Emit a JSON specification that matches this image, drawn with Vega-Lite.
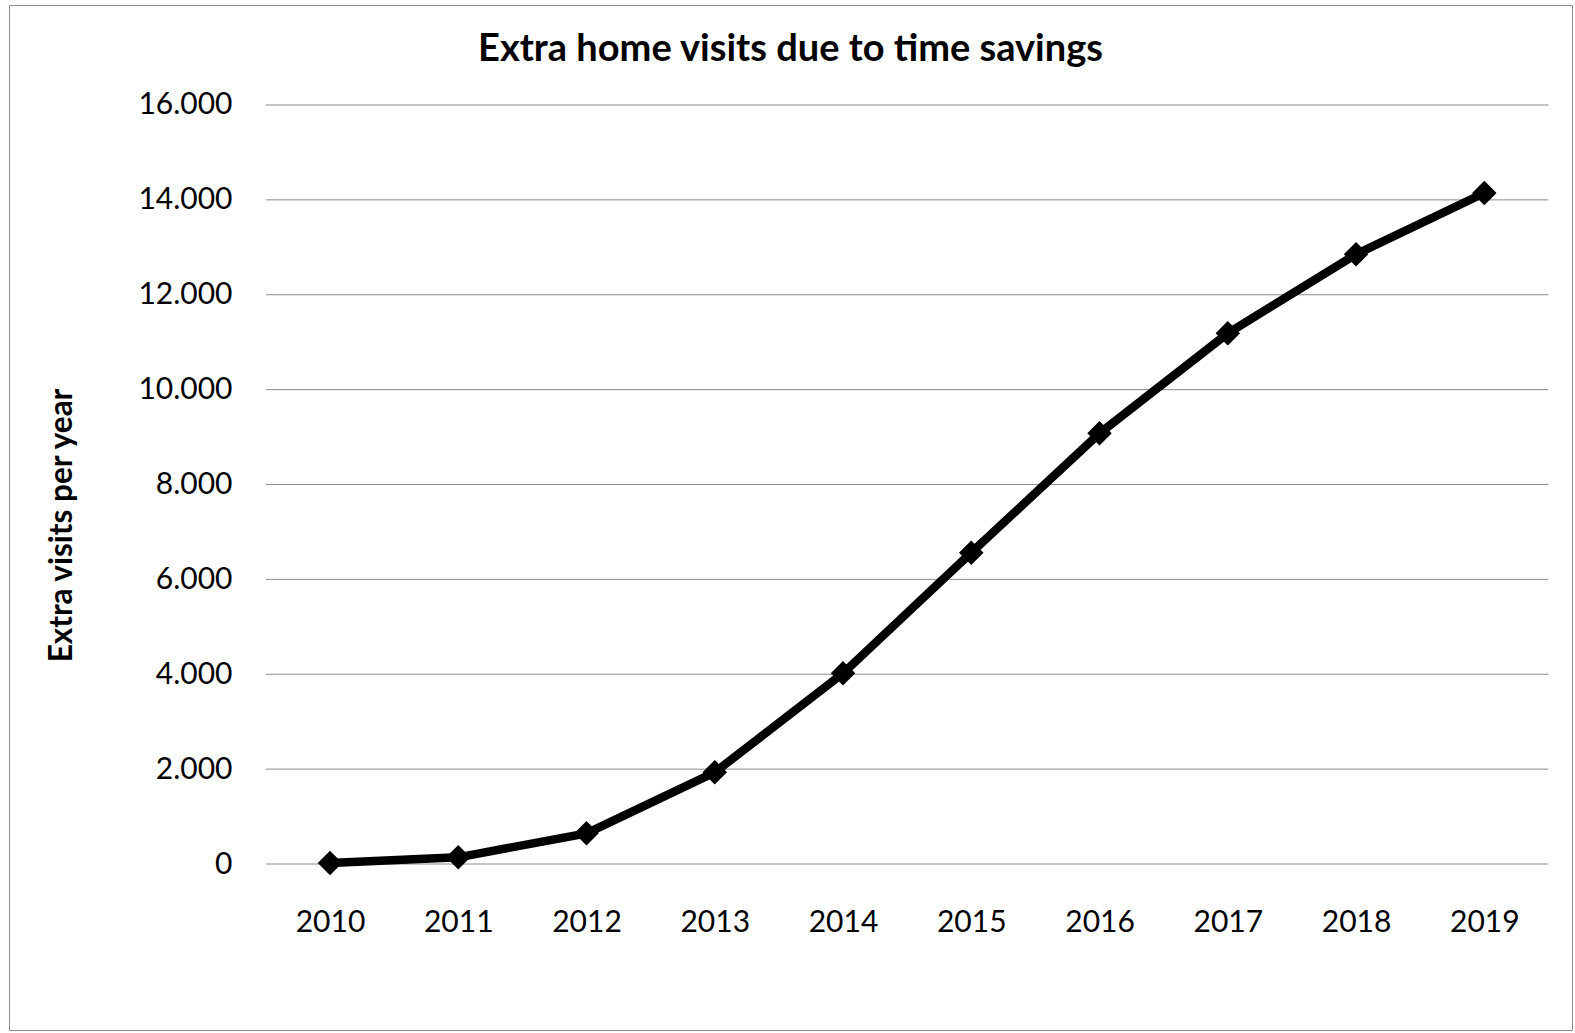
{
  "$schema": "https://vega.github.io/schema/vega-lite/v6.json",
  "width": 1563,
  "height": 1025,
  "autosize": {"type": "none"},
  "padding": {"left": 9, "top": 5, "right": 3, "bottom": 3},
  "background": "white",
  "config": {
    "font": "Lato",
    "view": {"stroke": "#8c8c8c", "strokeWidth": 1}
  },
  "title": {
    "text": "Extra home visits due to time savings",
    "anchor": "middle",
    "baseline": "alphabetic",
    "offset": 0,
    "dy": 94,
    "fontSize": 38,
    "fontWeight": "bold",
    "font": "Lato",
    "color": "#000000"
  },
  "layer": [
    {
      "data": {"values": [
        {"g": 0}, {"g": 2000}, {"g": 4000}, {"g": 6000}, {"g": 8000},
        {"g": 10000}, {"g": 12000}, {"g": 14000}, {"g": 16000}
      ]},
      "mark": {"type": "rule", "color": "#8c8c8c", "strokeWidth": 1},
      "encoding": {
        "y": {"field": "g", "type": "quantitative", "title": "Extra visits per year"},
        "x": {"datum": 2009.5, "type": "quantitative", "title": null},
        "x2": {"datum": 2019.5}
      }
    },
    {
      "data": {"values": [
        {"year": 2010, "visits": 20},
        {"year": 2011, "visits": 141},
        {"year": 2012, "visits": 647},
        {"year": 2013, "visits": 1933},
        {"year": 2014, "visits": 4020},
        {"year": 2015, "visits": 6562},
        {"year": 2016, "visits": 9079},
        {"year": 2017, "visits": 11187},
        {"year": 2018, "visits": 12853},
        {"year": 2019, "visits": 14145}
      ]},
      "encoding": {
        "x": {
          "field": "year",
          "type": "quantitative",
          "title": null,
          "scale": {"domain": [2007.4973, 2019.6838], "nice": false, "zero": false},
          "axis": {
            "orient": "bottom",
            "values": [2010, 2011, 2012, 2013, 2014, 2015, 2016, 2017, 2018, 2019],
            "format": "d",
            "title": null,
            "grid": false,
            "domain": false,
            "ticks": false,
            "tickSize": 0,
            "labelPadding": 0,
            "offset": -99,
            "labelBaseline": "alphabetic",
            "labelFontSize": 30,
            "labelColor": "#000000",
            "labelFont": "Lato",
            "labelFlush": false,
            "labelOverlap": false
          }
        },
        "y": {
          "field": "visits",
          "type": "quantitative",
          "title": "Extra visits per year",
          "scale": {"domain": [-3499.3, 18108], "nice": false, "zero": false},
          "axis": {
            "orient": "left",
            "values": [0, 2000, 4000, 6000, 8000, 10000, 12000, 14000, 16000],
            "labelExpr": "replace(format(datum.value, ','), ',', '.')",
            "title": "Extra visits per year",
            "titleX": -170,
            "titleY": 520,
            "titleAngle": -90,
            "titleAlign": "center",
            "titleBaseline": "middle",
            "titleFontSize": 31.5,
            "titleFontWeight": "bold",
            "titleFont": "Lato",
            "titleColor": "#000000",
            "grid": false,
            "domain": false,
            "ticks": false,
            "tickSize": 0,
            "labelPadding": 0,
            "offset": -223,
            "labelFontSize": 30,
            "labelColor": "#000000",
            "labelFont": "Lato",
            "labelBaseline": "middle",
            "labelFlush": false,
            "labelOverlap": false
          }
        }
      },
      "layer": [
        {"mark": {"type": "line", "color": "#000000", "strokeWidth": 8.5}},
        {"mark": {"type": "point", "shape": "diamond", "filled": true, "color": "#000000", "opacity": 1, "size": 600}}
      ]
    }
  ]
}
